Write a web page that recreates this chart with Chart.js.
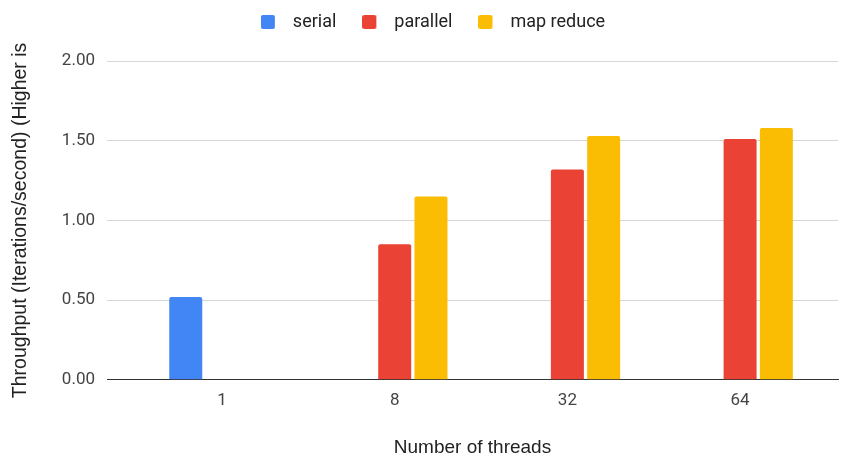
<!DOCTYPE html>
<html>
<head>
<meta charset="utf-8">
<script src="https://cdn.jsdelivr.net/npm/chart.js@4"></script>
<style>
  html, body { margin: 0; padding: 0; background: #fff; }
</style>
</head>
<body>
<canvas id="chart" width="854" height="456"></canvas>
<script>
const categories = ["1", "8", "32", "64"];
const serial = [0.52, null, null, null];
const parallel = [null, 0.85, 1.32, 1.51];
const mapReduce = [null, 1.15, 1.53, 1.58];
const yTicks = [0, 0.5, 1, 1.5, 2];

const colors = ["#4285F4", "#EA4335", "#FBBC04"];

// small square legend swatch with some room before the text
function swatch(color) {
  const c = document.createElement("canvas");
  c.width = 23;
  c.height = 14;
  const g = c.getContext("2d");
  g.fillStyle = color;
  g.beginPath();
  g.roundRect(0, 0, 14, 14, 2);
  g.fill();
  return c;
}
const swatches = colors.map(swatch);

// extra room under the legend
const legendGap = {
  id: "legendGap",
  beforeInit(chart) {
    const fit = chart.legend.fit;
    chart.legend.fit = function () {
      fit.call(this);
      this.height += 20;
    };
  }
};

const ctx = document.getElementById("chart").getContext("2d");

new Chart(ctx, {
  type: "bar",
  data: {
    labels: categories.map((c, i) => i),
    datasets: [
      { label: "serial", data: serial, backgroundColor: colors[0] },
      { label: "parallel", data: parallel, backgroundColor: colors[1] },
      { label: "map reduce", data: mapReduce, backgroundColor: colors[2] }
    ]
  },
  options: {
    responsive: false,
    animation: false,
    layout: { padding: { top: -13, left: 28, right: 16, bottom: 0 } },
    datasets: {
      bar: {
        categoryPercentage: 0.63,
        barPercentage: 0.91,
        borderRadius: { topLeft: 2, topRight: 2 },
        borderSkipped: "start"
      }
    },
    plugins: {
      tooltip: { enabled: false },
      legend: {
        position: "top",
        labels: {
          usePointStyle: true,
          pointStyleWidth: 23,
          boxHeight: 14,
          padding: 26,
          color: "#222",
          font: { family: "Roboto", size: 18 },
          generateLabels(chart) {
            const items = Chart.defaults.plugins.legend.labels.generateLabels(chart);
            items.forEach((it) => { it.pointStyle = swatches[it.datasetIndex]; });
            return items;
          }
        }
      }
    },
    scales: {
      x: {
        type: "linear",
        offset: false,
        min: -0.666,
        max: 3.567,
        grid: { display: false },
        border: { display: true, color: "#333", width: 1 },
        afterBuildTicks(scale) {
          scale.ticks = categories.map((c, i) => ({ value: i }));
        },
        ticks: {
          padding: 3,
          color: "#444",
          font: { family: "Roboto", size: 17 },
          callback: (v) => categories[v]
        },
        title: {
          display: true,
          text: "Number of threads",
          color: "#222",
          font: { family: "Arial", size: 19 },
          padding: { top: 22, bottom: -3 }
        }
      },
      y: {
        min: 0,
        max: 2,
        afterBuildTicks(scale) {
          scale.ticks = yTicks.map((v) => ({ value: v }));
        },
        afterFit(scale) {
          scale.width = 79;
        },
        grid: { color: "#d6d6d6", drawTicks: false },
        border: { display: false },
        ticks: {
          padding: 12,
          color: "#444",
          font: { family: "Roboto", size: 17 },
          callback: (v) => v.toFixed(2)
        },
        title: {
          display: true,
          text: "Throughput (Iterations/second) (Higher is",
          color: "#222",
          font: { family: "Arial", size: 19.5 },
          padding: { top: -19.5, bottom: 0 }
        }
      }
    }
  },
  plugins: [legendGap]
});
</script>
</body>
</html>
